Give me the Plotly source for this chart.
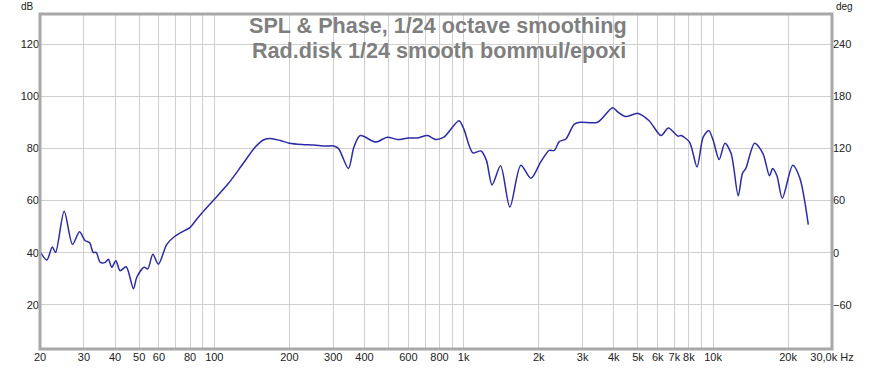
import math
import plotly.graph_objects as go

# ---- data ----
freq_hz = [20, 21.3, 22.4, 23.1, 25.0, 27.0, 28.8, 30.3, 31.6, 32.7, 33.6, 34.9, 36.5, 37.6,
           38.8, 40.3, 41.9, 44.3, 47.4, 48.9, 52.3, 54.1, 56.7, 59.7, 64.5, 69.7, 75.3,
           79.6, 85.3, 89.2, 101, 114, 129, 146, 158, 168, 184, 200, 225, 250, 279, 301,
           315, 345, 363, 385, 444, 494, 543, 600, 655, 716, 772, 833, 958, 1002, 1088,
           1174, 1234, 1300, 1406, 1532, 1696, 1861, 2038, 2203, 2310, 2417, 2570, 2778,
           2951, 3441, 3958, 4144, 4466, 5004, 5544, 6190, 6620, 7232, 7440, 8048, 8628,
           9130, 9619, 10020, 10580, 11160, 11820, 12620, 13120, 13540, 14680, 15860,
           16840, 17340, 18040, 18960, 20880, 22300, 24100]
spl_db = [40.5, 37.2, 42.2, 40.1, 55.9, 43.2, 48.0, 44.7, 43.9, 40.1, 40.1, 36.3, 36.3, 37.5,
          34.4, 36.9, 33.1, 34.6, 26.2, 30.6, 34.4, 33.8, 39.4, 35.6, 43.2, 46.4, 48.3,
          49.5, 53.0, 55.2, 60.9, 66.6, 73.5, 80.5, 83.3, 83.8, 83.0, 82.0, 81.5, 81.3,
          80.9, 80.9, 79.9, 72.3, 80.5, 84.9, 82.4, 84.3, 83.4, 84.0, 84.0, 84.9, 83.4,
          84.3, 90.6, 87.4, 78.3, 79.0, 75.4, 66.0, 73.3, 57.5, 73.5, 68.5, 74.8, 79.2,
          79.2, 82.6, 83.6, 89.3, 90.0, 90.0, 95.6, 94.0, 92.2, 93.4, 90.6, 84.9, 87.8,
          84.7, 84.9, 82.4, 72.9, 84.3, 86.8, 83.0, 75.7, 82.0, 78.0, 61.8, 70.4, 72.3,
          82.0, 78.0, 69.5, 72.3, 69.5, 60.9, 73.5, 68.5, 50.8]

x_tick_vals = [20, 30, 40, 50, 60, 70, 80, 90, 100, 200, 300, 400, 500, 600, 700, 800, 900,
               1000, 2000, 3000, 4000, 5000, 6000, 7000, 8000, 9000, 10000, 20000, 30000]
x_tick_text = ["20", "30", "40", "50", "60", "", "80", "", "100", "200", "300", "400", "",
               "600", "", "800", "", "1k", "2k", "3k", "4k", "5k", "6k", "7k", "8k", "",
               "10k", "20k", "30,0k Hz"]
db_ticks = [20, 40, 60, 80, 100, 120]
deg_ticks = [-60, 0, 60, 120, 180, 240]

title_line1 = "SPL & Phase, 1/24 octave smoothing"
title_line2 = "Rad.disk 1/24 smooth bommul/epoxi"

# ---- layout geometry ----
W, H = 881, 375
L, R, T, B = 40, 49, 14, 22
ph = H - T - B
db_range = [3.1, 131.5]
deg_range = [(v - 40) * 3 for v in db_range]

font_main = "Liberation Sans, Arial, sans-serif"

fig = go.Figure()
fig.add_trace(go.Scatter(
    x=freq_hz, y=spl_db, mode="lines",
    line=dict(color="#2b2ba6", width=1.5, shape="spline", smoothing=0.8),
    showlegend=False, hoverinfo="skip"))
fig.add_trace(go.Scatter(x=[None], y=[None], yaxis="y2", mode="lines",
                         showlegend=False, hoverinfo="skip"))

grid_c = "#cfcfcf"
fig.update_layout(
    width=W, height=H,
    margin=dict(l=L, r=R, t=T, b=B, pad=0),
    paper_bgcolor="white", plot_bgcolor="white",
    font=dict(family=font_main, size=11, color="#222"),
    xaxis=dict(type="log", range=[math.log10(20), math.log10(30000)],
               tickvals=x_tick_vals, ticktext=x_tick_text, tickangle=0,
               showgrid=True, gridcolor=grid_c, gridwidth=1,
               zeroline=False, showline=False, ticks="", ticklen=0,
               tickfont=dict(size=11, color="#222")),
    yaxis=dict(range=db_range, tickvals=db_ticks, showgrid=True, gridcolor=grid_c,
               gridwidth=1, zeroline=False, showline=False, ticks="",
               tickfont=dict(size=11, color="#222")),
    yaxis2=dict(range=deg_range, tickvals=deg_ticks, overlaying="y", side="right",
                showgrid=False, zeroline=False, showline=False, ticks="",
                tickfont=dict(size=11, color="#222")),
)

# frame
fig.add_shape(type="rect", xref="paper", yref="paper", x0=0, x1=1, y0=0, y1=1,
              line=dict(color="#a8a8a8", width=3), layer="above")

def py(px):
    return 1 - (px - T) / ph

def px_x(px):
    return (px - L) / (W - L - R)

fig.add_annotation(text=title_line1, xref="paper", yref="paper", x=px_x(438), y=py(26),
                   xanchor="center", yanchor="middle", showarrow=False,
                   font=dict(family=font_main, size=21.6, color="#7f7f7f", weight="bold"))
fig.add_annotation(text=title_line2, xref="paper", yref="paper", x=px_x(439), y=py(50.5),
                   xanchor="center", yanchor="middle", showarrow=False,
                   font=dict(family=font_main, size=21.6, color="#7f7f7f", weight="bold"))
fig.add_annotation(text="dB", xref="paper", yref="paper", x=px_x(27), y=py(6),
                   xanchor="center", yanchor="middle", showarrow=False,
                   font=dict(family=font_main, size=10, color="#222"))
fig.add_annotation(text="deg", xref="paper", yref="paper", x=px_x(844), y=py(6.5),
                   xanchor="center", yanchor="middle", showarrow=False,
                   font=dict(family=font_main, size=10, color="#222"))

fig.write_html("out.html", config={"displayModeBar": False},
               post_script="document.body.style.margin='0px';")
